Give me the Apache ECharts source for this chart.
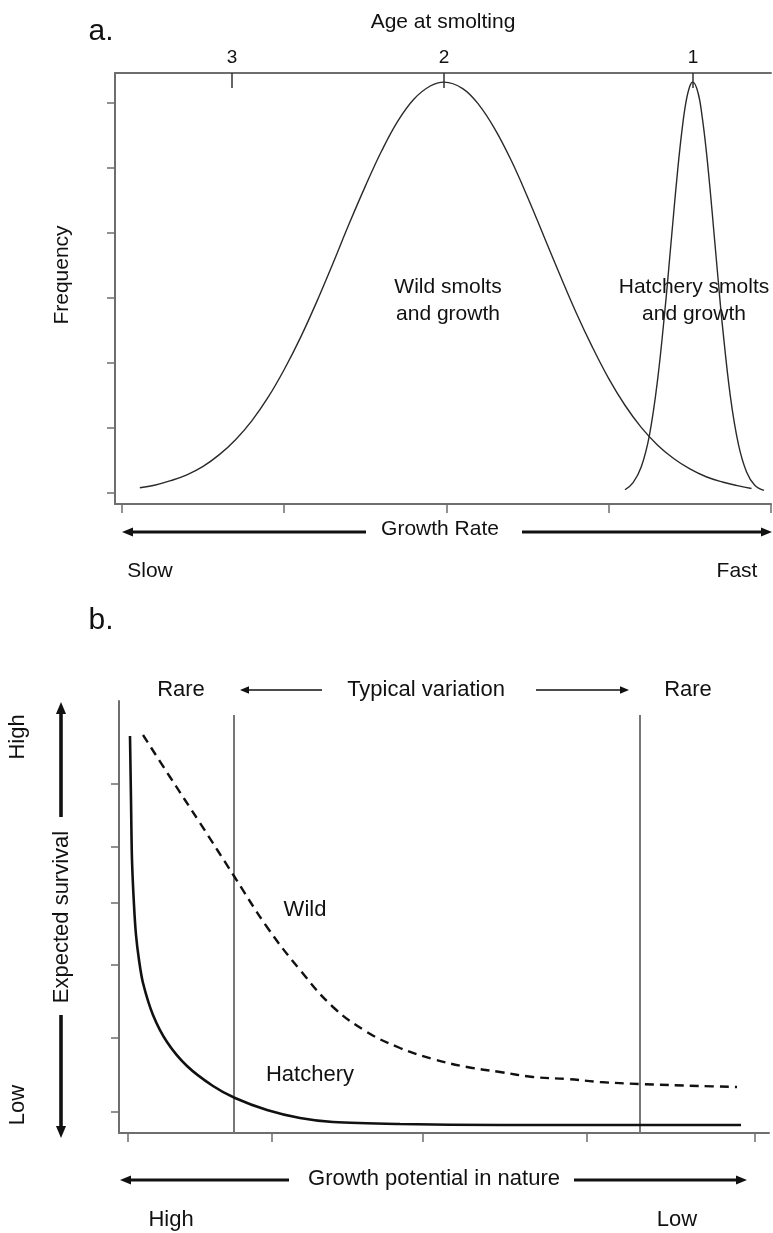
<!DOCTYPE html>
<html>
<head>
<meta charset="utf-8">
<title>Smolt growth and survival</title>
<script src="https://cdn.jsdelivr.net/npm/echarts@6/dist/echarts.min.js"></script>
<style>
  html, body { margin: 0; padding: 0; background: #fff; }
  #chart { width: 773px; height: 1233px; }
</style>
</head>
<body>
<div id="chart"></div>
<script>
// ---- panel a: frequency vs growth rate ----
const growthTicks = [0, 1, 2, 3, 4]
const freqTicks = [0, 1, 2, 3, 4, 5, 6]
const ageTickPos = [0.678, 1.985, 3.519]
const ageTickLabels = ['3', '2', '1']

// wild smolts (growth rate, frequency)
const wildA = [
  [0.11, 0.08], [0.2, 0.12], [0.3, 0.19], [0.4, 0.28], [0.5, 0.41], [0.6, 0.59],
  [0.7, 0.82], [0.8, 1.11], [0.9, 1.47], [1.0, 1.90], [1.1, 2.39], [1.2, 2.94],
  [1.3, 3.53], [1.4, 4.14], [1.5, 4.72], [1.6, 5.26], [1.7, 5.72], [1.8, 6.06],
  [1.9, 6.26], [1.985, 6.32], [2.1, 6.22], [2.2, 5.97], [2.3, 5.59], [2.4, 5.11],
  [2.5, 4.55], [2.6, 3.95], [2.7, 3.35], [2.8, 2.77], [2.9, 2.24], [3.0, 1.76],
  [3.1, 1.35], [3.2, 1.01], [3.3, 0.74], [3.4, 0.53], [3.5, 0.37], [3.6, 0.25],
  [3.7, 0.17], [3.8, 0.11], [3.88, 0.07]
]
// hatchery smolts
const hatcheryA = [
  [3.10, 0.05], [3.15, 0.16], [3.20, 0.40], [3.25, 0.88], [3.30, 1.72], [3.35, 2.91],
  [3.375, 3.60], [3.40, 4.30], [3.425, 4.97], [3.45, 5.55], [3.475, 6.00], [3.50, 6.26],
  [3.519, 6.32], [3.55, 6.16], [3.575, 5.80], [3.60, 5.29], [3.625, 4.66], [3.65, 3.96],
  [3.675, 3.26], [3.70, 2.59], [3.75, 1.48], [3.80, 0.74], [3.85, 0.32], [3.90, 0.12],
  [3.957, 0.04]
]

// ---- panel b: expected survival vs growth potential ----
const survivalTicks = [34.9, 28.6, 23.0, 16.8, 9.5, 2.1]
const potentialTicks = [0.9, 15.3, 30.4, 46.8, 63.6]
const rareLimits = [11.5, 52.1]
const rareLineTop = 41.8

const hatcheryB = [
  [1.1, 39.7], [1.2, 33.3], [1.3, 27.3], [1.5, 22.8], [1.7, 19.8], [2.0, 17.3],
  [2.4, 15.0], [3.4, 11.8], [4.8, 9.1], [6.8, 6.7], [9.4, 4.7], [11.6, 3.5],
  [14.8, 2.3], [18.1, 1.5], [21.4, 1.1], [28.1, 0.9], [38.1, 0.8], [48.1, 0.8],
  [62.2, 0.8]
]
const wildB = [
  [2.4, 39.8], [5.1, 35.6], [8.1, 31.0], [11.5, 25.7], [14.8, 20.6], [18.1, 16.3],
  [21.4, 12.6], [24.8, 10.1], [28.1, 8.5], [31.4, 7.4], [34.8, 6.6], [38.1, 6.1],
  [41.4, 5.6], [44.8, 5.4], [48.1, 5.1], [52.1, 4.9], [58.1, 4.7], [61.8, 4.6]
]

const FONT = '"Liberation Sans", Arial, Helvetica, sans-serif'
const INK = '#111'
const AXIS = '#6e6e6e'

function txt(s, x, y, size, rot, lh) {
  return {
    type: 'text', x: x, y: y, rotation: rot || 0,
    style: {
      text: s, fontSize: size, fontFamily: FONT, fill: INK,
      align: 'center', verticalAlign: 'middle', lineHeight: lh || size
    }
  }
}

// arrow with head at (x2, y2)
function arrow(x1, y1, x2, y2, w, hl) {
  const dx = x2 - x1
  const dy = y2 - y1
  const len = Math.hypot(dx, dy)
  const ux = dx / len
  const uy = dy / len
  const hw = hl * 0.42
  const bx = x2 - ux * hl
  const by = y2 - uy * hl
  return [
    { type: 'line', shape: { x1: x1, y1: y1, x2: bx, y2: by }, style: { stroke: INK, lineWidth: w } },
    {
      type: 'polygon',
      shape: { points: [[x2, y2], [bx - uy * hw, by + ux * hw], [bx + uy * hw, by - ux * hw]] },
      style: { fill: INK }
    }
  ]
}

function plainAxis(extra) {
  return Object.assign({
    type: 'value',
    axisLine: { show: true, onZero: false, lineStyle: { color: AXIS, width: 2 } },
    axisLabel: { show: false },
    splitLine: { show: false }
  }, extra)
}

const chart = echarts.init(document.getElementById('chart'))

const option = {
  backgroundColor: '#fff',
  animation: false,
  grid: [
    { left: 115, top: 73, width: 656, height: 431 },
    { left: 119, top: 701, width: 650, height: 432 }
  ],
  xAxis: [
    plainAxis({
      gridIndex: 0, min: -0.043, max: 4.0, position: 'bottom',
      axisTick: { show: true, customValues: growthTicks, length: 9, lineStyle: { color: AXIS, width: 1.5 } }
    }),
    plainAxis({
      gridIndex: 0, min: -0.043, max: 4.0, position: 'top',
      name: 'Age at smolting', nameLocation: 'middle', nameGap: 40,
      nameTextStyle: { fontSize: 21, fontFamily: FONT, color: INK },
      axisTick: { show: true, inside: true, customValues: ageTickPos, length: 15, lineStyle: { color: '#333', width: 1.5 } },
      axisLabel: {
        show: true, customValues: ageTickPos, margin: 6,
        fontSize: 19, fontFamily: FONT, color: INK,
        formatter: function (v) {
          const i = ageTickPos.indexOf(v)
          return i >= 0 ? ageTickLabels[i] : ''
        }
      }
    }),
    plainAxis({
      gridIndex: 1, min: 0, max: 65,
      axisTick: { show: true, customValues: potentialTicks, length: 9, lineStyle: { color: AXIS, width: 1.5 } }
    })
  ],
  yAxis: [
    plainAxis({
      gridIndex: 0, min: -0.169, max: 6.46,
      axisTick: { show: true, customValues: freqTicks, length: 8, lineStyle: { color: AXIS, width: 1.5 } }
    }),
    plainAxis({
      gridIndex: 1, min: 0, max: 43.2,
      axisTick: { show: true, customValues: survivalTicks, length: 8, lineStyle: { color: AXIS, width: 1.5 } }
    })
  ],
  series: [
    {
      name: 'Wild smolts', type: 'line', xAxisIndex: 0, yAxisIndex: 0,
      data: wildA, showSymbol: false, smooth: 0.4,
      lineStyle: { color: '#2a2a2a', width: 1.4 }
    },
    {
      name: 'Hatchery smolts', type: 'line', xAxisIndex: 0, yAxisIndex: 0,
      data: hatcheryA, showSymbol: false, smooth: 0.4,
      lineStyle: { color: '#2a2a2a', width: 1.4 }
    },
    ...rareLimits.map(function (x) {
      return {
        type: 'line', xAxisIndex: 2, yAxisIndex: 1, showSymbol: false,
        data: [[x, 0], [x, rareLineTop]],
        lineStyle: { color: '#777', width: 2 }
      }
    }),
    {
      name: 'Hatchery', type: 'line', xAxisIndex: 2, yAxisIndex: 1,
      data: hatcheryB, showSymbol: false, smooth: 0.3,
      lineStyle: { color: INK, width: 2.6 }
    },
    {
      name: 'Wild', type: 'line', xAxisIndex: 2, yAxisIndex: 1,
      data: wildB, showSymbol: false, smooth: 0.4,
      lineStyle: { color: INK, width: 2.4, type: [9, 6] }
    }
  ],
  graphic: [
    // panel a
    txt('a.', 101, 32, 30),
    txt('Frequency', 62, 275, 21, Math.PI / 2),
    txt('Wild smolts\nand growth', 448, 301, 21, 0, 27),
    txt('Hatchery smolts\nand growth', 694, 301, 21, 0, 27),
    txt('Growth Rate', 440, 529, 21),
    ...arrow(366, 532, 122, 532, 3.2, 11),
    ...arrow(522, 532, 772, 532, 3.2, 11),
    txt('Slow', 150, 571, 21),
    txt('Fast', 737, 571, 21),
    // panel b
    txt('b.', 101, 621, 30),
    txt('Rare', 181, 690, 22),
    ...arrow(322, 690, 240, 690, 1.6, 9),
    txt('Typical variation', 426, 690, 22),
    ...arrow(536, 690, 629, 690, 1.6, 9),
    txt('Rare', 688, 690, 22),
    txt('High', 18, 737, 22, Math.PI / 2),
    ...arrow(61, 817, 61, 702, 3.6, 12),
    txt('Expected survival', 62, 917, 22, Math.PI / 2),
    ...arrow(61, 1015, 61, 1138, 3.6, 12),
    txt('Low', 18, 1105, 22, Math.PI / 2),
    txt('Wild', 305, 910, 22),
    txt('Hatchery', 310, 1075, 22),
    txt('Growth potential in nature', 434, 1179, 22),
    ...arrow(289, 1180, 120, 1180, 3.2, 11),
    ...arrow(574, 1180, 747, 1180, 3.2, 11),
    txt('High', 171, 1220, 22),
    txt('Low', 677, 1220, 22)
  ]
}

chart.setOption(option)
</script>
</body>
</html>
